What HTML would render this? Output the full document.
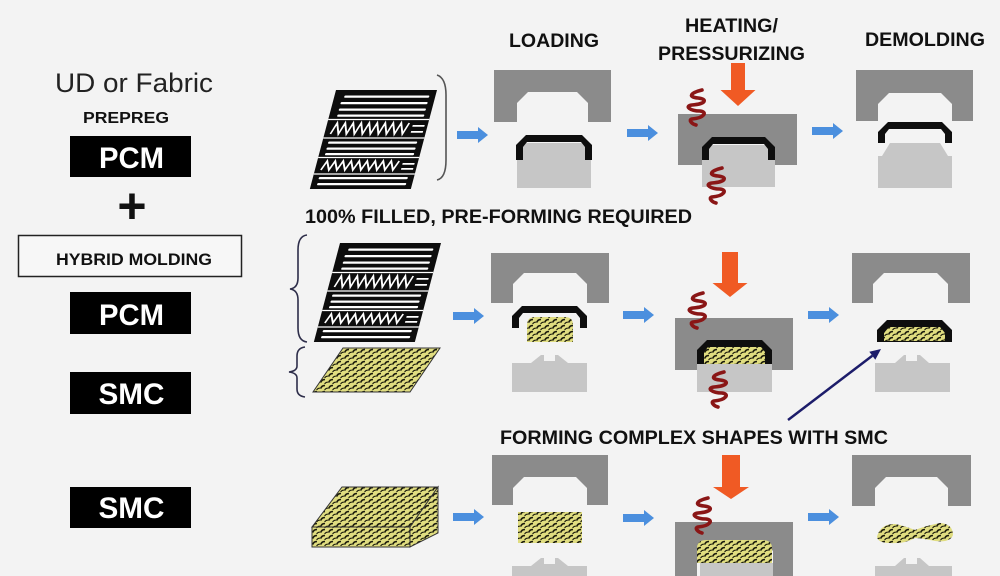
<!DOCTYPE html>
<html><head><meta charset="utf-8"><style>
html,body{margin:0;padding:0;background:#f3f3f3;}
svg{display:block;}
text{font-family:"Liberation Sans",Arial,sans-serif;}
</style></head><body>
<svg width="1000" height="576" viewBox="0 0 1000 576" xmlns="http://www.w3.org/2000/svg">
<defs>
<pattern id="smc" width="8" height="6" patternUnits="userSpaceOnUse">
<rect width="8" height="6" fill="#e0dd80"/>
<path d="M0.6 4.6 Q2 1.2 5 1.6" stroke="#1a1a0c" stroke-width="1.6" fill="none"/>
<path d="M4.6 5.9 Q6 4 7.9 4.2" stroke="#1a1a0c" stroke-width="1.2" fill="none"/>
</pattern>
<g id="stack">
<rect x="0" y="0" width="101" height="99" fill="#0d0d0d"/>
<g fill="#fff">
<rect x="10" y="5.5" width="85" height="2.2" rx="1"/>
<rect x="8" y="12" width="87" height="2.2" rx="1"/>
<rect x="8" y="18.5" width="87" height="2.2" rx="1"/>
<rect x="8" y="24.5" width="87" height="2.2" rx="1"/>
<rect x="6" y="51.5" width="89" height="2.2" rx="1"/>
<rect x="6" y="57.5" width="89" height="2.2" rx="1"/>
<rect x="6" y="63" width="89" height="2.2" rx="1"/>
<rect x="6" y="87" width="89" height="2.2" rx="1"/>
<rect x="6" y="93" width="89" height="2.2" rx="1"/>
<rect x="86" y="35" width="12" height="1.8"/>
<rect x="86" y="41" width="12" height="1.8"/>
<rect x="86" y="73" width="12" height="1.8"/>
<rect x="86" y="78" width="12" height="1.8"/>
</g>
<g stroke="#fff" stroke-width="1.2" fill="none">
<line x1="0" y1="29.5" x2="101" y2="29.5"/>
<line x1="0" y1="48" x2="101" y2="48"/>
<line x1="0" y1="67.5" x2="101" y2="67.5"/>
<line x1="0" y1="84" x2="101" y2="84"/>
</g>
<polyline fill="none" stroke="#fff" stroke-width="1.8" points="6,44 10,33 14,44 18,33 22,44 26,33 30,44 34,33 38,44 42,33 46,44 50,33 54,44 58,33 62,44 66,33 70,44 74,33 78,44 82,33"/>
<polyline fill="none" stroke="#fff" stroke-width="1.8" points="6,80 10,71 14,80 18,71 22,80 26,71 30,80 34,71 38,80 42,71 46,80 50,71 54,80 58,71 62,80 66,71 70,80 74,71 78,80 82,71"/>
</g>
<path id="spring" d="M16 0 C4 3,2 7,12 8 C22 9,20 14,6 15 C-2 16,4 21,14 21 C22 22,18 28,6 29 C2 30,6 34,10 35" fill="none" stroke="#8a1616" stroke-width="3.6" stroke-linecap="round"/>
</defs>

<!-- Left column -->
<text x="55" y="92" font-size="27" fill="#222" textLength="158" lengthAdjust="spacingAndGlyphs">UD or Fabric</text>
<text x="83" y="123" font-size="16" font-weight="bold" fill="#111" textLength="86" lengthAdjust="spacingAndGlyphs">PREPREG</text>
<rect x="70" y="136" width="121" height="41" fill="#000"/>
<text x="131.5" y="168" font-size="30" font-weight="bold" fill="#fff" text-anchor="middle" textLength="65" lengthAdjust="spacingAndGlyphs">PCM</text>
<text x="132" y="223" font-size="50" font-weight="bold" fill="#111" text-anchor="middle">+</text>
<rect x="18.5" y="235.5" width="223" height="41" fill="#f7f7f7" stroke="#222" stroke-width="1.5"/>
<text x="134" y="265" font-size="17" font-weight="bold" fill="#111" text-anchor="middle" textLength="156" lengthAdjust="spacingAndGlyphs">HYBRID MOLDING</text>
<rect x="70" y="292" width="121" height="42" fill="#000"/>
<text x="131.5" y="325" font-size="30" font-weight="bold" fill="#fff" text-anchor="middle" textLength="65" lengthAdjust="spacingAndGlyphs">PCM</text>
<rect x="70" y="372" width="121" height="42" fill="#000"/>
<text x="131.5" y="404" font-size="30" font-weight="bold" fill="#fff" text-anchor="middle" textLength="66" lengthAdjust="spacingAndGlyphs">SMC</text>
<rect x="70" y="487" width="121" height="41" fill="#000"/>
<text x="131.5" y="518" font-size="30" font-weight="bold" fill="#fff" text-anchor="middle" textLength="66" lengthAdjust="spacingAndGlyphs">SMC</text>

<!-- Headers -->
<text x="509" y="47" font-size="19" font-weight="bold" fill="#111" textLength="90" lengthAdjust="spacingAndGlyphs">LOADING</text>
<text x="685" y="32" font-size="19" font-weight="bold" fill="#111" textLength="93" lengthAdjust="spacingAndGlyphs">HEATING/</text>
<text x="658" y="60" font-size="19" font-weight="bold" fill="#111" textLength="147" lengthAdjust="spacingAndGlyphs">PRESSURIZING</text>
<text x="865" y="46" font-size="19" font-weight="bold" fill="#111" textLength="120" lengthAdjust="spacingAndGlyphs">DEMOLDING</text>
<text x="305" y="223" font-size="19" font-weight="bold" fill="#111" textLength="387" lengthAdjust="spacingAndGlyphs">100% FILLED, PRE-FORMING REQUIRED</text>
<text x="500" y="444" font-size="19" font-weight="bold" fill="#111" textLength="388" lengthAdjust="spacingAndGlyphs">FORMING COMPLEX SHAPES WITH SMC</text>

<!-- Stacks -->
<use href="#stack" transform="translate(336,90) skewX(-14.8)"/>
<use href="#stack" transform="translate(340,243) skewX(-14.8)"/>
<polygon points="343,348 440,348 410,392 313,392" fill="url(#smc)" stroke="#333" stroke-width="1"/>
<polygon points="342,487 438,487 410,527 312,527" fill="url(#smc)" stroke="#333" stroke-width="1"/>
<polygon points="312,527 410,527 410,547 312,547" fill="url(#smc)" stroke="#333" stroke-width="1"/>
<polygon points="410,527 438,487 438,533 410,547" fill="url(#smc)" stroke="#333" stroke-width="1"/>

<!-- Brackets -->
<path d="M437 75 Q446 78 446 95 V160 Q446 178 437 180" fill="none" stroke="#555" stroke-width="1.6"/>
<path d="M307 235 Q298 236 298 250 V278 Q298 288 290 289 Q298 290 298 300 V328 Q298 341 307 342" fill="none" stroke="#2e2e4a" stroke-width="1.6"/>
<path d="M305 347 Q297 348 297 356 V366 Q297 371 289 372 Q297 373 297 378 V389 Q297 396 305 397" fill="none" stroke="#2e2e4a" stroke-width="1.6"/>

<!-- Blue arrows -->
<g fill="#4b8fde">
<path d="M457 131 H478 V127 L488 135 L478 143 V139 H457 Z"/>
<path d="M627 129 H648 V125 L658 133 L648 141 V137 H627 Z"/>
<path d="M812 127 H833 V123 L843 131 L833 139 V135 H812 Z"/>
<path d="M453 312 H474 V308 L484 316 L474 324 V320 H453 Z"/>
<path d="M623 311 H644 V307 L654 315 L644 323 V319 H623 Z"/>
<path d="M808 311 H829 V307 L839 315 L829 323 V319 H808 Z"/>
<path d="M453 513 H474 V509 L484 517 L474 525 V521 H453 Z"/>
<path d="M623 514 H644 V510 L654 518 L644 526 V522 H623 Z"/>
<path d="M808 513 H829 V509 L839 517 L829 525 V521 H808 Z"/>
</g>

<!-- Orange press arrows -->
<g fill="#f05a24">
<path d="M731 63 H745 V90 H755.5 L738 106 L720.5 90 H731 Z"/>
<path d="M722 252 H738 V283 H747.5 L730 297 L712.5 283 H722 Z"/>
<path d="M722 455 H740 V487 H749 L731 499 L713 487 H722 Z"/>
</g>

<!-- Lower molds -->
<g fill="#c6c6c6">
<path d="M517 188 V152 L526 143 H582 L591 152 V188 Z"/>
<path d="M702 187 V145 H775 V187 Z"/>
<path d="M878 188 V156 H882 L890 143 H940 L948 156 H952 V188 Z"/>
<path d="M512 392 V363 H531 L541 355 H544 V361 H555 V355 H558 L568 363 H587 V392 Z"/>
<path d="M697 392 V364 H772 V392 Z"/>
<path d="M875 392 V363 H895 L904 355 H906 V361 H917 V355 H920 L929 363 H950 V392 Z"/>
<path d="M512 590 V566 H531 L541 558 H544 V564 H555 V558 H558 L568 566 H587 V590 Z"/>
<path d="M700 590 V563 H773 V590 Z"/>
<path d="M875 590 V566 H895 L904 558 H906 V564 H917 V558 H920 L929 566 H952 V590 Z"/>
</g>

<!-- Upper molds -->
<g fill="#8b8b8b">
<path d="M494 70 H611 V122 H588 V103 L577 92 H528 L517 103 V122 H494 Z"/>
<path d="M678 114 H797 V165 H775 V148 L764 137 H713 L702 148 V165 H678 Z"/>
<path d="M856 70 H973 V121 H952 V104 L941 93 H889 L878 104 V121 H856 Z"/>
<path d="M491 253 H609 V303 H587 V284 L576 273 H524 L513 284 V303 H491 Z"/>
<path d="M675 318 H793 V370 H772 V351 L761 340 H708 L697 351 V370 H675 Z"/>
<path d="M852 253 H970 V303 H948 V284 L937 273 H884 L873 284 V303 H852 Z"/>
<path d="M492 455 H608 V505 H587 V488 L576 477 H524 L513 488 V505 H492 Z"/>
<path d="M675 522 H793 V576 H773 V551 L762 540 H708 L697 551 V576 H675 Z"/>
<path d="M852 455 H971 V506 H948 V488 L937 477 H886 L875 488 V506 H852 Z"/>
</g>

<!-- Black parts (prepreg) -->
<g fill="#0e0e0e">
<path d="M516 160 V145 L526 135 H582 L592 145 V160 H585 V147 L581 142 H527 L523 147 V160 Z"/>
<path d="M702 160 V147 L712 137 H765 L775 147 V160 H768 V149 L764 144 H713 L709 149 V160 Z"/>
<path d="M878 143 V132 L888 122 H942 L952 132 V143 H945 V134 L941 129 H889 L885 134 V143 Z"/>
<path d="M512 328 V316 L522 306 H577 L587 316 V328 H580 V318 L576 313 H523 L519 318 V328 Z"/>
<path d="M697 364 V350 L707 340 H762 L772 350 V364 Z"/>
<path d="M877 342 V330 L887 320 H942 L952 330 V342 Z"/>
</g>

<!-- SMC parts -->
<g fill="url(#smc)">
<path d="M527 342 V325 Q527 317 535 317 H565 Q573 317 573 325 V342 Z"/>
<path d="M704 364 V352 L708 347 H761 L765 352 V364 Z"/>
<path d="M884 341 V333 L889 327 H940 L945 333 V341 Z"/>
<rect x="518" y="512" width="64" height="31"/>
<path d="M697 563 V548 Q697 540 707 540 H762 Q772 540 772 548 V563 Z"/>
<path d="M877 537 Q880 524 895 524 Q905 526 915 530 Q925 526 940 523 Q953 524 953 535 Q950 543 935 541 Q920 538 915 538 Q905 544 890 543 Q878 543 877 537 Z"/>
</g>

<!-- Heat springs -->
<use href="#spring" transform="translate(686,90)"/>
<use href="#spring" transform="translate(706,168)"/>
<use href="#spring" transform="translate(687,293)"/>
<use href="#spring" transform="translate(708,372)"/>
<use href="#spring" transform="translate(692,498)"/>

<!-- Navy pointer arrow -->
<line x1="788" y1="420" x2="872.3" y2="355.7" stroke="#1c1c6a" stroke-width="2.5"/>
<polygon points="881,349 875.3,359.7 869.3,351.7" fill="#1c1c6a"/>
</svg>
</body></html>
